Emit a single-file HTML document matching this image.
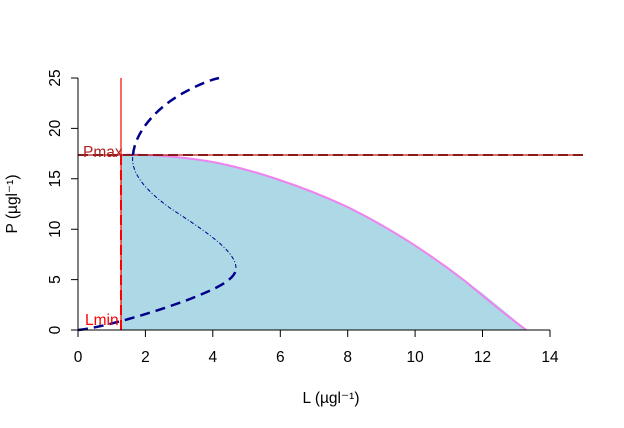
<!DOCTYPE html>
<html><head><meta charset="utf-8"><style>body{margin:0;background:#fff}svg{display:block}</style></head><body>
<svg width="624" height="428" xmlns="http://www.w3.org/2000/svg" font-family="Liberation Sans, sans-serif">
<path d="M121,155 L131.9,154.6 L179.1,157.1 L212.8,162 L246.6,169.4 L280.3,179.4 L314,192 L347.7,207 L381.4,224.8 L415.1,245 L448.8,267.8 L482.5,293.2 L506.1,312.5 L526.3,330 L121,330 Z" fill="#add8e6"/>
<path d="M121,155 L131.9,154.6 C160,155 190,158 212.8,162 C250,169 300,185 347.7,207 C390,228 430,254 465,281 C490,302 510,318 526.3,330" fill="none" stroke="#ee82ee" stroke-width="2"/>
<line x1="78" y1="155" x2="583" y2="155" stroke="#b22222" stroke-width="1.2"/>
<line x1="78" y1="155" x2="583" y2="155" stroke="#8b1a1a" stroke-width="2" stroke-dasharray="10,5"/>
<line x1="121" y1="78" x2="121" y2="330" stroke="#ff0000" stroke-width="1.2"/>
<line x1="121" y1="155" x2="121" y2="330" stroke="#ff0000" stroke-width="2" stroke-dasharray="10,5"/>
<path d="M78,330 C100,328 150,314 190,299 C215,289 236,280 236,268" fill="none" stroke="#00008b" stroke-width="2.5" stroke-dasharray="10,6"/>
<path d="M236,268 C236,250 200,228 170,208 C145,190 130,172 133,155" fill="none" stroke="#00008b" stroke-width="1" stroke-dasharray="4,2,1,2"/>
<path d="M133,155 C135,130 160,105 185,92 C200,84 210,80 219,78" fill="none" stroke="#00008b" stroke-width="2.5" stroke-dasharray="10,6"/>
<g stroke="#000" stroke-width="1" fill="none">
<line x1="78" y1="330" x2="550" y2="330"/>
<line x1="78" y1="78" x2="78" y2="330"/>
<path d="M78,330v7M145.4,330v7M212.8,330v7M280.3,330v7M347.7,330v7M415.1,330v7M482.5,330v7M550,330v7"/>
<path d="M78,330h-7M78,279.6h-7M78,229.2h-7M78,178.8h-7M78,128.4h-7M78,78h-7"/>
</g>
<g font-size="15.5" fill="#000" text-anchor="middle">
<text x="78" y="362">0</text><text x="145.4" y="362">2</text><text x="212.8" y="362">4</text><text x="280.3" y="362">6</text><text x="347.7" y="362">8</text><text x="415.1" y="362">10</text><text x="482.5" y="362">12</text><text x="550" y="362">14</text>
<text transform="translate(60,330) rotate(-90)">0</text>
<text transform="translate(60,279.6) rotate(-90)">5</text>
<text transform="translate(60,229.2) rotate(-90)">10</text>
<text transform="translate(60,178.8) rotate(-90)">15</text>
<text transform="translate(60,128.4) rotate(-90)">20</text>
<text transform="translate(60,78) rotate(-90)">25</text>
<text x="331" y="403">L (µgl⁻¹)</text>
<text transform="translate(17,204) rotate(-90)">P (µgl⁻¹)</text>
</g>
<text x="83" y="157" font-size="15.5" fill="#b22222">Pmax</text>
<text x="85" y="325" font-size="15.5" fill="#ff0000">Lmin</text>
</svg>
</body></html>
